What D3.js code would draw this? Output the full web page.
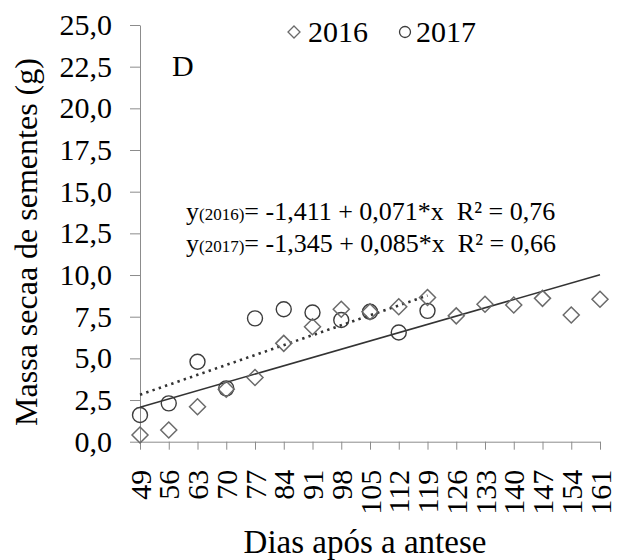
<!DOCTYPE html>
<html>
<head>
<meta charset="utf-8">
<script src="https://cdn.jsdelivr.net/npm/d3@7"></script>
<style>
  body { margin: 0; background: #fff; }
</style>
</head>
<body>
<div id="chart"></div>
<script>
// dias após a antese (categorias do eixo x)
const days = [49, 56, 63, 70, 77, 84, 91, 98, 105, 112, 119, 126, 133, 140, 147, 154, 161];
// massa seca de sementes (g)
const massa2016 = [0.4, 0.7, 2.1, 3.15, 3.85, 5.9, 6.9, 7.95, 7.8, 8.1, 8.65, 7.55, 8.25, 8.2, 8.6, 7.6, 8.55];
const massa2017 = [1.6, 2.3, 4.8, 3.2, 7.4, 7.95, 7.75, 7.3, 7.8, 6.55, 7.85];
const yTicks = [0, 2.5, 5, 7.5, 10, 12.5, 15, 17.5, 20, 22.5, 25];
// coeficientes das regressões [a, b] -> y = a + b*x
const fit2016 = [-1.411, 0.071];
const fit2017 = [-1.345, 0.085];
const equations = [
    {sub: "(2016)", rest: "= -1,411 + 0,071*x\u00a0\u00a0R² = 0,76"},
    {sub: "(2017)", rest: "= -1,345 + 0,085*x\u00a0\u00a0R² = 0,66"}
];

const width = 617, height = 560;
const margin = {top: 25, right: 17, bottom: 118.3, left: 140};
const axisColor = "#8c8c8c";
const serif = "'Liberation Serif'";

const svg = d3.select("#chart").append("svg")
    .attr("width", width)
    .attr("height", height);

const x = d3.scalePoint()
    .domain(days)
    .range([margin.left, width - margin.right]);

const y = d3.scaleLinear()
    .domain([0, 25])
    .range([height - margin.bottom, margin.top]);

const fmt = d => d3.format(".1f")(d).replace(".", ",");

// eixo y
const yAxis = svg.append("g")
    .attr("transform", `translate(${margin.left},0)`)
    .call(d3.axisLeft(y).tickValues(yTicks).tickSize(10).tickSizeOuter(0).tickPadding(18).tickFormat(fmt));
yAxis.select(".domain").attr("stroke", axisColor);
yAxis.selectAll(".tick line").attr("stroke", axisColor);
yAxis.selectAll(".tick text")
    .attr("fill", "#000")
    .style("font-family", serif)
    .style("font-size", "30px");

// eixo x (rótulos verticais)
const xAxis = svg.append("g")
    .attr("transform", `translate(0,${y(0)})`)
    .call(d3.axisBottom(x).tickSize(8).tickSizeOuter(0).tickFormat(""));
xAxis.select(".domain").attr("stroke", axisColor);
xAxis.selectAll(".tick line").attr("stroke", axisColor);

svg.append("g")
    .selectAll("text")
    .data(days)
    .enter()
    .append("text")
    .attr("transform", d => `translate(${x(d)},${y(0) + 28}) rotate(-90)`)
    .attr("text-anchor", "end")
    .attr("dy", "0.35em")
    .style("font-family", serif)
    .style("font-size", "30px")
    .text(d => d);

// títulos dos eixos
svg.append("text")
    .attr("x", 365)
    .attr("y", 553)
    .attr("text-anchor", "middle")
    .style("font-family", serif)
    .style("font-size", "33px")
    .text("Dias após a antese");

svg.append("text")
    .attr("transform", "translate(37,242) rotate(-90)")
    .attr("text-anchor", "middle")
    .style("font-family", serif)
    .style("font-size", "32px")
    .text("Massa secaa de sementes (g)");

// linhas de tendência
const trend = (fit, xs) => xs.map(d => ({day: d, v: fit[0] + fit[1] * d}));
const line = d3.line().x(d => x(d.day)).y(d => y(d.v));

const days2017 = days.slice(0, massa2017.length);

svg.append("path")
    .datum(trend(fit2016, [days[0], days[days.length - 1]]))
    .attr("d", line)
    .attr("fill", "none")
    .attr("stroke", "#333")
    .attr("stroke-width", 1.5);

svg.append("path")
    .datum(trend(fit2017, [days2017[0], days2017[days2017.length - 1]]))
    .attr("d", line)
    .attr("fill", "none")
    .attr("stroke", "#333")
    .attr("stroke-width", 2.6)
    .attr("stroke-dasharray", "2.4,4.2");

// pontos
const diamond = s => `M0,${-s}L${s},0L0,${s}L${-s},0Z`;

svg.append("g")
    .selectAll("circle")
    .data(massa2017)
    .enter()
    .append("circle")
    .attr("cx", (d, i) => x(days2017[i]))
    .attr("cy", d => y(d))
    .attr("r", 7.5)
    .attr("fill", "none")
    .attr("stroke", "#3c3c3c")
    .attr("stroke-width", 1.4);

svg.append("g")
    .selectAll("path")
    .data(massa2016)
    .enter()
    .append("path")
    .attr("d", diamond(8))
    .attr("transform", (d, i) => `translate(${x(days[i])},${y(d)})`)
    .attr("fill", "none")
    .attr("stroke", "#6a6a6a")
    .attr("stroke-width", 1.5);

// legenda
const legend = svg.append("g");
legend.append("path")
    .attr("d", diamond(6))
    .attr("transform", "translate(294,32)")
    .attr("fill", "none")
    .attr("stroke", "#6a6a6a")
    .attr("stroke-width", 1.3);
legend.append("circle")
    .attr("cx", 405).attr("cy", 32).attr("r", 5.5)
    .attr("fill", "none")
    .attr("stroke", "#3c3c3c")
    .attr("stroke-width", 1.3);
legend.selectAll("text")
    .data([[308, "2016"], [416, "2017"]])
    .enter()
    .append("text")
    .attr("x", d => d[0])
    .attr("y", 42)
    .style("font-family", serif)
    .style("font-size", "30px")
    .text(d => d[1]);

// letra do painel
svg.append("text")
    .attr("x", 172)
    .attr("y", 76)
    .style("font-family", serif)
    .style("font-size", "30px")
    .text("D");

// equações
equations.forEach((e, i) => {
    const t = svg.append("text")
        .attr("x", 186)
        .attr("y", 220 + i * 32)
        .style("font-family", serif)
        .style("font-size", "26px");
    t.append("tspan").text("y");
    t.append("tspan").style("font-size", "17px").text(e.sub);
    t.append("tspan").text(e.rest);
});
</script>
</body>
</html>
